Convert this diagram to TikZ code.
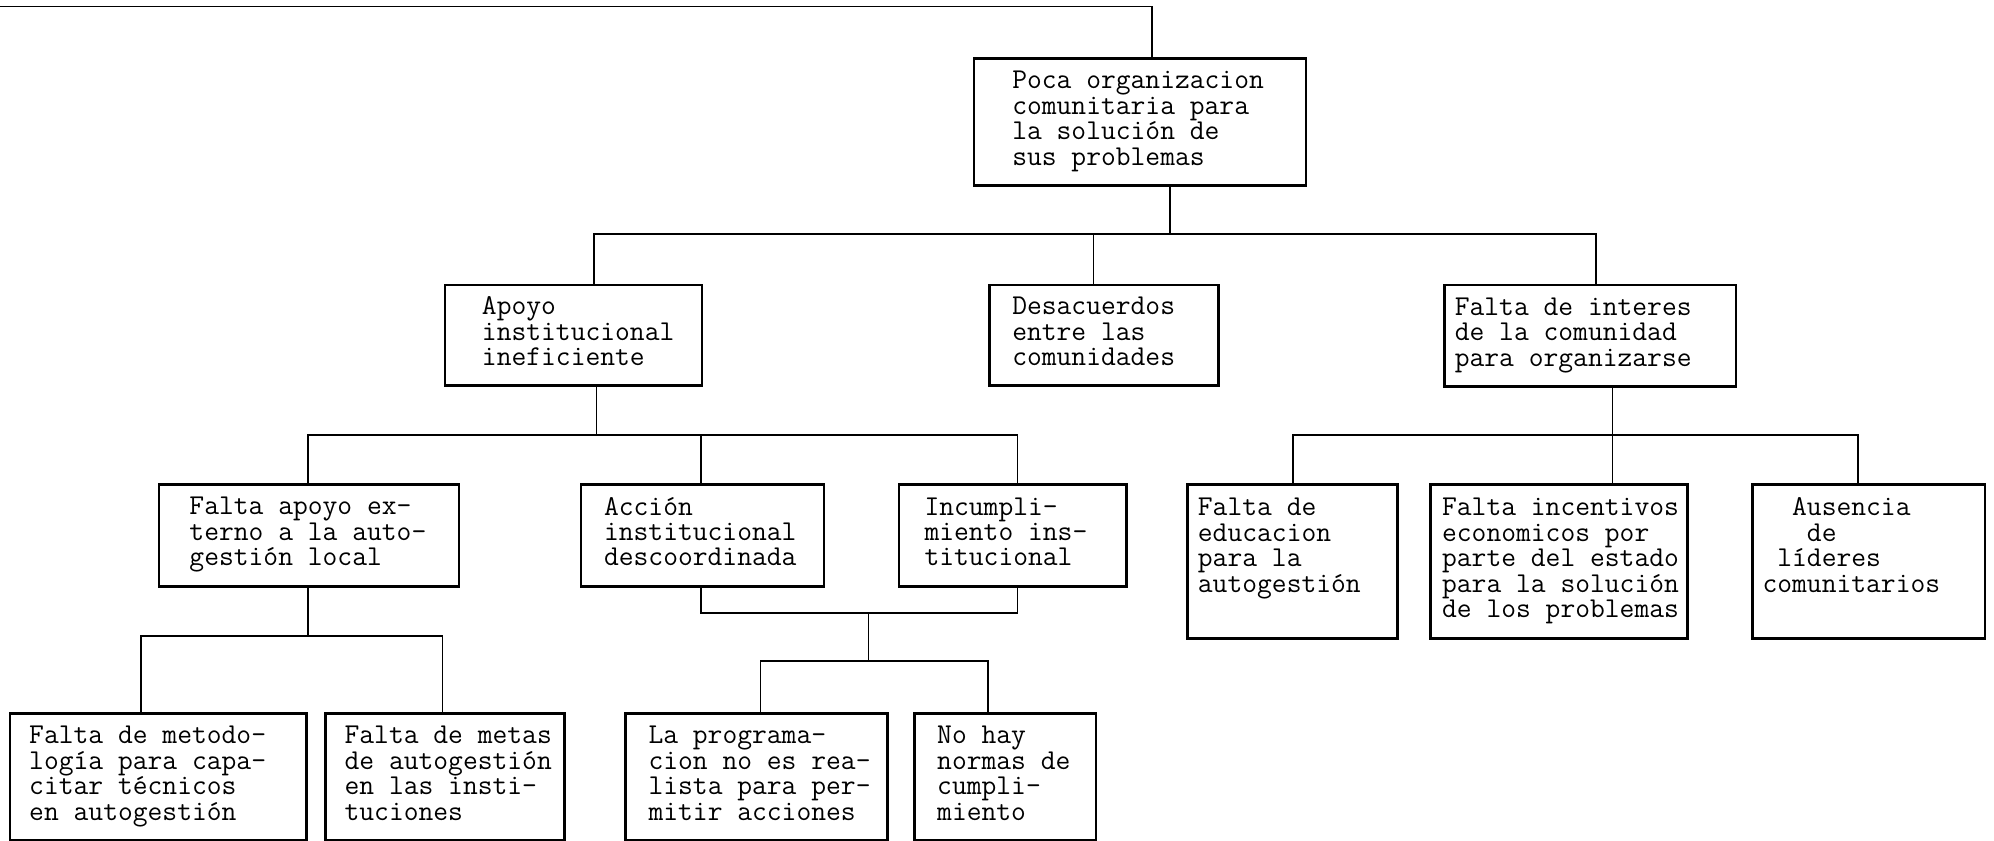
\documentclass[tikz,border=0pt]{standalone}
\usepackage{fontspec}
\usepackage{tikz}
\usetikzlibrary{positioning}

\newcommand{\tipo}{\ttfamily\fontsize{22.6}{20}\selectfont}
\newcommand{\caja}[3]{\makebox[#1pt][l]{\hspace*{#2pt}\begin{tabular}{@{}l@{}}#3\end{tabular}}}

\begin{document}
\begin{tikzpicture}[x=1pt, y=-1pt,
    cajon/.style={draw, line width=2pt, inner sep=0pt, anchor=north west, font=\tipo},
    linea/.style={line width=1.3pt}]
  \useasboundingbox (0,0) rectangle (1568,661);

  \node[cajon, minimum height=100pt] (raiz) at (765,45) {\caja{261}{30}{Poca organizacion\\comunitaria para\\la solución de\\sus problemas}};

  \node[cajon, minimum height=79pt] (apoyo) at (349,223) {\caja{202}{29}{Apoyo\\institucional\\ineficiente}};
  \node[cajon, minimum height=79pt] (desac) at (777,223) {\caja{180}{18}{Desacuerdos\\entre las\\comunidades}};
  \node[cajon, minimum height=80pt] (interes) at (1135,223) {\caja{229}{8}{Falta de interes\\de la comunidad\\para organizarse}};

  \node[cajon, minimum height=80pt] (externo) at (124,380) {\caja{236}{24}{Falta apoyo ex-\\terno a la auto-\\gestión local}};
  \node[cajon, minimum height=80pt] (accion) at (456,380) {\caja{191}{18}{Acción\\institucional\\descoordinada}};
  \node[cajon, minimum height=80pt] (incumpl) at (706,380) {\caja{179}{20}{Incumpli-\\miento ins-\\titucional}};

  \node[cajon, minimum height=121pt] (educ) at (933,380) {\caja{165}{8}{Falta de\\educacion\\para la\\autogestión\\ \mbox{}}};
  \node[cajon, minimum height=121pt] (incent) at (1124,380) {\caja{202}{9}{Falta incentivos\\economicos por\\parte del estado\\para la solución\\de los problemas}};
  \node[cajon, minimum height=121pt] (ausencia) at (1377,380) {\caja{183}{8}{\phantom{xx}Ausencia\\\phantom{xxx}de\\\phantom{x}líderes\\comunitarios\\ \mbox{}}};

  \node[cajon, minimum height=100pt] (metodo) at (7,560) {\caja{233}{15}{Falta de metodo-\\logía para capa-\\citar técnicos\\en autogestión}};
  \node[cajon, minimum height=100pt] (metas) at (255,560) {\caja{188}{15}{Falta de metas\\de autogestión\\en las insti-\\tuciones}};
  \node[cajon, minimum height=100pt] (progr) at (491,560) {\caja{206}{18}{La programa-\\cion no es rea-\\lista para per-\\mitir acciones}};
  \node[cajon, minimum height=100pt] (normas) at (718,560) {\caja{143}{18}{No hay\\normas de\\cumpli-\\miento}};

  \coordinate (ini) at (0,5);
  \coordinate (t1) at (906,5);
  \draw[linea] (ini) -- (t1) -- (raiz.north -| t1);

  \coordinate (b1) at (920,184);
  \coordinate (b1a) at (467,184);
  \coordinate (b1b) at (860,184);
  \coordinate (b1c) at (1255,184);
  \draw[linea] (raiz.south -| b1) -- (b1);
  \draw[linea] (apoyo.north -| b1a) -- (b1a) -- (b1c) -- (interes.north -| b1c);
  \draw[linea] (b1b) -- (desac.north -| b1b);

  \coordinate (b2) at (469,342);
  \coordinate (b2a) at (242,342);
  \coordinate (b2b) at (551,342);
  \coordinate (b2c) at (800,342);
  \draw[linea] (apoyo.south -| b2) -- (b2);
  \draw[linea] (externo.north -| b2a) -- (b2a) -- (b2c) -- (incumpl.north -| b2c);
  \draw[linea] (b2b) -- (accion.north -| b2b);

  \coordinate (b3) at (1268,342);
  \coordinate (b3a) at (1017,342);
  \coordinate (b3c) at (1461,342);
  \draw[linea] (interes.south -| b3) -- (incent.north -| b3);
  \draw[linea] (educ.north -| b3a) -- (b3a) -- (b3c) -- (ausencia.north -| b3c);

  \coordinate (b4) at (242,500);
  \coordinate (b4a) at (111,500);
  \coordinate (b4b) at (348,500);
  \draw[linea] (externo.south -| b4) -- (b4);
  \draw[linea] (metodo.north -| b4a) -- (b4a) -- (b4b) -- (metas.north -| b4b);

  \coordinate (u1) at (551,482);
  \coordinate (u2) at (800,482);
  \coordinate (u3) at (683,482);
  \coordinate (b5) at (683,520);
  \coordinate (b5a) at (598,520);
  \coordinate (b5b) at (777,520);
  \draw[linea] (accion.south -| u1) -- (u1) -- (u2) -- (incumpl.south -| u2);
  \draw[linea] (u3) -- (b5);
  \draw[linea] (progr.north -| b5a) -- (b5a) -- (b5b) -- (normas.north -| b5b);
\end{tikzpicture}
\end{document}
